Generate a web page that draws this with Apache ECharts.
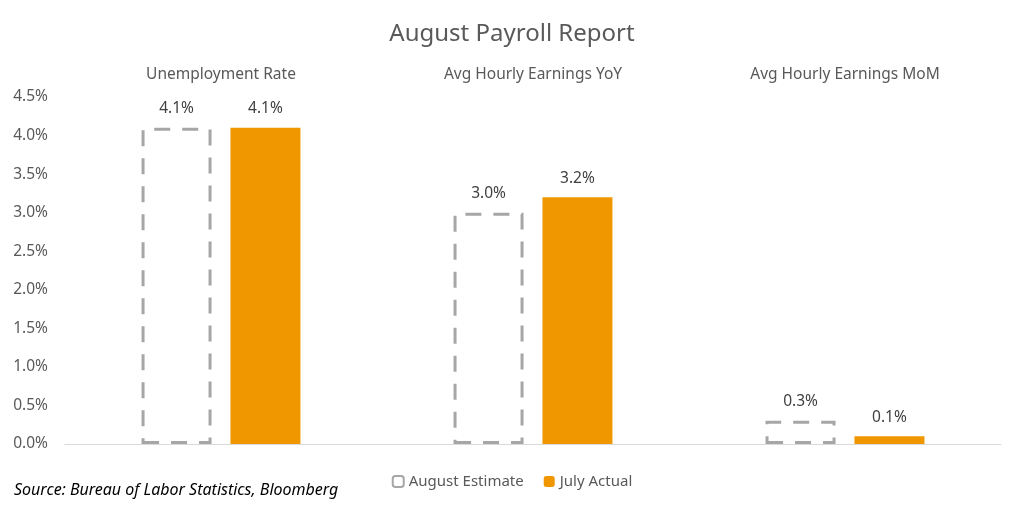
<!DOCTYPE html>
<html>
<head>
<meta charset="utf-8">
<title>August Payroll Report</title>
<script src="https://cdn.jsdelivr.net/npm/echarts@6/dist/echarts.min.js"></script>
<style>
  html, body { margin: 0; padding: 0; background: #fff; }
  #chart { width: 1024px; height: 512px; }
</style>
</head>
<body>
<div id="chart"></div>
<script>
    // data
    var categories = ['Unemployment Rate', 'Avg Hourly Earnings YoY', 'Avg Hourly Earnings MoM'];
    var augustEstimate = [4.1, 3.0, 0.3];
    var julyActual = [4.1, 3.2, 0.1];
    var yTicks = { min: 0, max: 4.5, interval: 0.5 };

    var font = '"Noto Sans", "Open Sans", sans-serif';
    var grey = '#595959';

    var myChart = echarts.init(document.getElementById('chart'));
    var option = {
        animation: false,
        title: {
            text: 'August Payroll Report',
            left: 'center',
            top: 17,
            textStyle: { fontFamily: font, fontSize: 24, fontWeight: 'normal', color: grey }
        },
        legend: {
            bottom: 18,
            left: 'center',
            itemWidth: 11,
            itemHeight: 11,
            itemGap: 20,
            textStyle: { fontFamily: font, fontSize: 15, color: grey },
            data: ['August Estimate', 'July Actual']
        },
        grid: { left: 65, right: 23, top: 97, bottom: 68 },
        xAxis: [{
            type: 'category',
            data: categories,
            position: 'bottom',
            axisLine: { lineStyle: { color: '#d9d9d9', width: 1 } },
            axisTick: { show: false },
            axisLabel: { show: false }
        }, {
            type: 'category',
            data: categories,
            position: 'top',
            axisLine: { show: false },
            axisTick: { show: false },
            axisLabel: { margin: 14, fontFamily: font, fontSize: 15.5, color: grey }
        }],
        yAxis: {
            type: 'value',
            min: yTicks.min,
            max: yTicks.max,
            interval: yTicks.interval,
            splitLine: { show: false },
            axisLine: { show: false },
            axisTick: { show: false },
            axisLabel: {
                margin: 17,
                fontFamily: font, fontSize: 15.5, color: grey,
                formatter: function (v) { return v.toFixed(1) + '%'; }
            }
        },
        series: [{
            name: 'August Estimate',
            type: 'bar',
            data: augustEstimate,
            barWidth: 70,
            barGap: '27%',
            itemStyle: {
                color: 'rgba(255,255,255,0)',
                borderColor: '#a6a6a6',
                borderWidth: 3,
                borderType: [16, 12]
            },
            label: {
                show: true, position: 'top', distance: 11,
                fontFamily: font, fontSize: 15.5, color: '#404040',
                formatter: function (p) { return p.value.toFixed(1) + '%'; }
            }
        }, {
            name: 'July Actual',
            type: 'bar',
            data: julyActual,
            barWidth: 70,
            itemStyle: { color: '#f09700' },
            label: {
                show: true, position: 'top', distance: 11,
                fontFamily: font, fontSize: 15.5, color: '#404040',
                formatter: function (p) { return p.value.toFixed(1) + '%'; }
            }
        }],
        graphic: [{
            type: 'text',
            left: 14,
            top: 482,
            style: {
                text: 'Source: Bureau of Labor Statistics, Bloomberg',
                font: 'italic 16px ' + font,
                fill: '#000'
            }
        }]
    };
    myChart.setOption(option);
</script>
</body>
</html>
